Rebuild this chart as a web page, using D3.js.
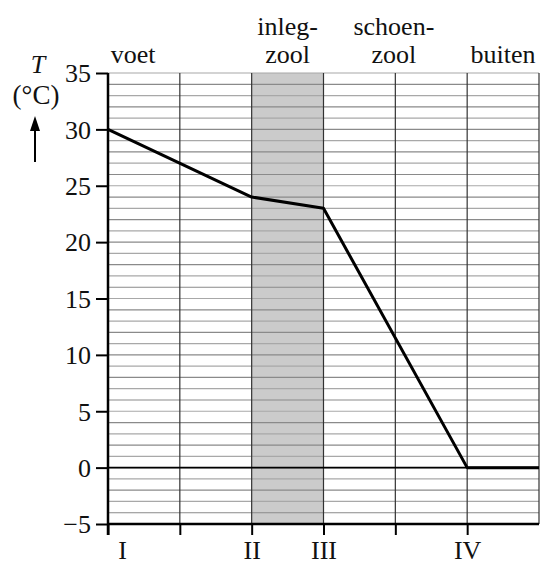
<!DOCTYPE html>
<html>
<head>
<meta charset="utf-8">
<script src="https://cdn.jsdelivr.net/npm/d3@7"></script>
<style>
  html, body { margin: 0; padding: 0; background: #fff; }
  svg { display: block; }
  svg text { font-family: 'Liberation Serif', 'Times New Roman', Times, 'DejaVu Serif', serif !important; fill: #111; }
</style>
</head>
<body>
<script>
// Temperature profile through a foot, insole, shoe sole and outside air
const positions = [0, 2, 3, 5, 6];           // layer boundaries (x units)
const temperatures = [30, 24, 23, 0, 0];     // T in °C at those boundaries
const xTickValues = [0, 1, 2, 3, 4, 5];
const xTickLabels = { 0: "I", 2: "II", 3: "III", 5: "IV" };
const yTickValues = [-5, 0, 5, 10, 15, 20, 25, 30, 35];
const layerLabels = [
  { lines: ["voet"], x: 0.35 },
  { lines: ["inleg-", "zool"], x: 2.5 },
  { lines: ["schoen-", "zool"], x: 3.98 },
  { lines: ["buiten"], x: 5.5 }
];
const shadedLayer = [2, 3];

const FONT = "'Liberation Serif', 'Times New Roman', Times, 'DejaVu Serif', serif";
const FS = 26;

const width = 541, height = 566;
const svg = d3.select("body").append("svg")
  .attr("width", width).attr("height", height)
  .attr("font-family", FONT);

const x = d3.scaleLinear().domain([0, 6]).range([108, 539]);
const y = d3.scaleLinear().domain([-5, 35]).range([524, 73]);

// shaded insole band
svg.append("rect")
  .attr("x", x(shadedLayer[0])).attr("y", y(35))
  .attr("width", x(shadedLayer[1]) - x(shadedLayer[0]))
  .attr("height", y(-5) - y(35))
  .attr("fill", "#cbcbcb");

// horizontal grid, one line per degree
svg.append("g").selectAll("line")
  .data(d3.range(-4, 36))
  .join("line")
  .attr("x1", x(0)).attr("x2", x(6))
  .attr("y1", d => y(d)).attr("y2", d => y(d))
  .attr("stroke", d => d % 2 === 0 ? "#8a8a8a" : "#a8a8a8")
  .attr("stroke-width", 1.2);

// vertical grid
svg.append("g").selectAll("line")
  .data(d3.range(1, 7))
  .join("line")
  .attr("x1", d => x(d)).attr("x2", d => x(d))
  .attr("y1", y(35)).attr("y2", y(-5))
  .attr("stroke", "#333")
  .attr("stroke-width", 1.2);

// zero line
svg.append("line")
  .attr("x1", x(0)).attr("x2", x(6))
  .attr("y1", y(0)).attr("y2", y(0))
  .attr("stroke", "#000").attr("stroke-width", 1.8);

// temperature line
svg.append("path")
  .datum(positions.map((p, i) => [p, temperatures[i]]))
  .attr("d", d3.line().x(d => x(d[0])).y(d => y(d[1])))
  .attr("fill", "none").attr("stroke", "#000")
  .attr("stroke-width", 3).attr("stroke-linejoin", "round");

// y axis
const yAxis = svg.append("g")
  .attr("transform", `translate(${x(0)},0)`)
  .call(d3.axisLeft(y).tickValues(yTickValues).tickSize(12).tickPadding(5)
    .tickFormat(d => d < 0 ? "\u2212" + Math.abs(d) : d));
yAxis.attr("font-family", FONT).attr("font-size", FS);
yAxis.select(".domain").attr("stroke", "#000").attr("stroke-width", 2.5)
  .attr("d", `M0,${y(35)}V${y(-5) + 11}`);
yAxis.selectAll(".tick line").attr("stroke", "#000").attr("stroke-width", 2);
yAxis.selectAll(".tick text").attr("fill", "#111").attr("dy", "0.34em");

// x axis
const xAxis = svg.append("g")
  .attr("transform", `translate(0,${y(-5)})`)
  .call(d3.axisBottom(x).tickValues(xTickValues).tickSize(11).tickPadding(6)
    .tickFormat(d => xTickLabels[d] || ""));
xAxis.attr("font-family", FONT).attr("font-size", FS);
xAxis.select(".domain").attr("stroke", "#000").attr("stroke-width", 2.5)
  .attr("d", `M${x(0)},0H${x(6)}`);
xAxis.selectAll(".tick line").attr("stroke", "#000").attr("stroke-width", 2);
xAxis.selectAll(".tick text").attr("fill", "#111")
  .attr("dx", d => d === 0 ? 14 : 0);

// layer names above the grid
const lbl = svg.append("g").selectAll("text")
  .data(layerLabels)
  .join("text")
  .attr("text-anchor", "middle")
  .attr("font-size", FS)
  .attr("x", d => x(d.x))
  .attr("y", d => 63 - (d.lines.length - 1) * 28);
lbl.selectAll("tspan")
  .data(d => d.lines.map((t, i) => ({ t, i, x: x(d.x) })))
  .join("tspan")
  .attr("x", d => d.x)
  .attr("dy", d => d.i === 0 ? 0 : 28)
  .text(d => d.t);

// axis quantity and unit
svg.append("text").attr("x", 38).attr("y", 73)
  .attr("text-anchor", "middle").attr("font-size", FS)
  .attr("font-style", "italic").text("T");
svg.append("text").attr("x", 36).attr("y", 104)
  .attr("text-anchor", "middle").attr("font-size", 27).text("(°C)");
svg.append("line")
  .attr("x1", 35).attr("x2", 35).attr("y1", 162).attr("y2", 128)
  .attr("stroke", "#000").attr("stroke-width", 2);
svg.append("path")
  .attr("d", "M35,116 L30,131 L40,131 Z").attr("fill", "#000");
</script>
</body>
</html>
